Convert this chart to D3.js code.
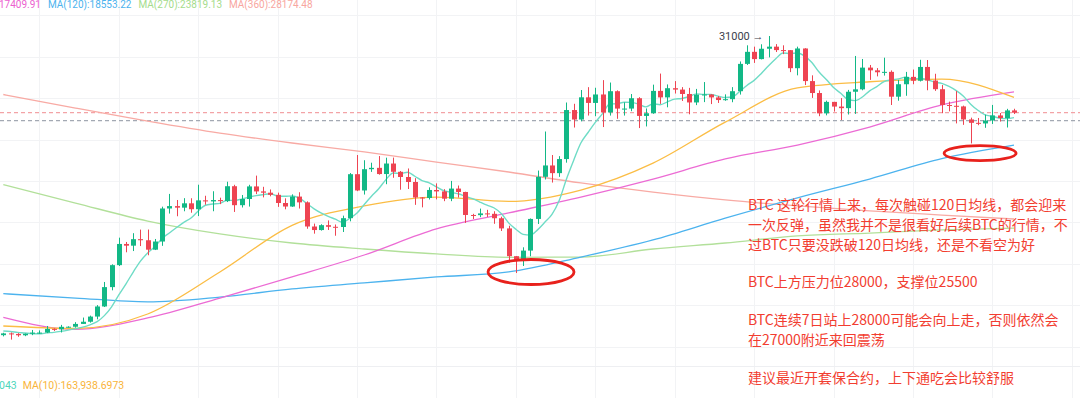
<!DOCTYPE html>
<html>
<head>
<meta charset="utf-8">
<script src="https://cdn.jsdelivr.net/npm/d3@7"></script>
<style>
  body { margin: 0; background: #fff; overflow: hidden; }
  svg { display: block; font-family: Roboto, "Noto Sans", sans-serif; }
</style>
</head>
<body>
<div id="chart"></div>
<script>
// daily candles, 2022-12-29 .. 2023-05-18 (last one still open)
const opens = [16547,16633,16607,16541,16617,16672,16673,16851,16831,16951,16955,17091,17196,17446,17934,18869,19930,20954,20871,21185,21133,20677,21071,22667,22783,22707,22917,22632,23060,23009,23074,23022,23743,22827,23125,23733,23492,23431,23327,22932,22762,23242,22963,21797,21626,21862,21783,21773,22199,24324,23538,24565,24631,24331,24839,24440,24189,23947,23198,23175,23562,23492,23141,23629,23465,22354,22346,22430,22410,22196,21705,20363,20187,20633,22163,24197,24746,24375,25055,27423,26965,28038,27767,28175,27307,28333,27493,27494,27994,27139,27268,28348,28034,28478,28411,28199,27790,28169,28175,28033,27906,27948,28333,29653,30235,29884,30384,30485,30319,30316,29445,30397,28822,28245,27262,27817,27591,27514,28307,28423,29473,29341,29248,29268,28068,28669,29026,28838,29505,28848,28430,27668,27628,27598,26969,26805,26775,26917,27163,27033,27405];
const highs = [16664,16677,16644,16628,16799,16778,16992,16878,17044,16975,17176,17398,17491,18000,19117,19971,21258,21050,21474,21647,21650,21194,22755,23371,23078,23166,23162,23816,23282,23500,23189,23960,23811,23320,23812,24255,23715,23587,23433,23158,23350,23452,23011,21938,21906,22090,21894,22322,24380,25250,24998,24879,25200,25122,25126,24476,24600,24132,23219,23689,23880,23600,23999,23777,23476,22410,22662,22602,22534,22270,21834,20370,20792,22185,24500,26386,25250,25196,27787,27725,28390,28528,28500,28868,28752,28374,27792,28196,28044,27500,28650,29184,28660,28821,28530,28494,28444,28775,28190,28100,28180,28530,29770,30550,30485,30600,31000,30608,30550,30320,30485,30411,29100,28371,27877,27820,28000,28397,30036,29890,29600,29450,29952,29338,28880,29266,29379,29850,29840,29176,28630,27830,28336,27636,27055,27040,27200,27670,27280,27481,27485];
const lows = [16488,16333,16470,16499,16548,16606,16647,16750,16678,16908,16911,17091,17153,17314,17907,18714,19888,20551,20611,20852,20408,20659,20862,22422,22292,22533,22462,22300,22850,22534,22878,22978,22500,22715,22760,23363,23204,23256,22745,22628,22745,22665,21688,21451,21599,21630,21351,21532,22047,23505,23340,24435,24300,23840,24150,23574,23608,22843,22722,23101,23106,23020,23021,23195,21971,22157,22247,22258,21927,21580,20042,19549,19889,20360,21918,24068,23920,24195,24881,26578,26880,27157,27124,26601,27155,27000,27156,27367,26552,26631,27241,27720,27555,28220,27861,27218,27661,27806,27711,27766,27871,27800,28170,29600,29700,29870,29967,30226,30124,29255,29100,28630,28010,27125,27167,27350,26942,27207,27235,28377,28880,29050,29088,27666,27873,28112,28670,28803,28379,28348,27270,27359,26777,26708,25811,26690,26565,26750,26864,26580,27230];
const closes = [16633,16607,16542,16616,16672,16673,16851,16831,16951,16955,17091,17196,17446,17934,18869,19930,20954,20871,21185,21133,20677,21071,22667,22783,22707,22917,22632,23060,23009,23074,23022,23743,22827,23125,23733,23492,23431,23327,22932,22762,23242,22963,21797,21626,21862,21783,21773,22199,24324,23538,24565,24631,24331,24839,24440,24189,23947,23198,23175,23562,23492,23141,23629,23465,22354,22346,22430,22410,22196,21705,20363,20187,20633,22163,24197,24746,24375,25055,27423,26965,28038,27767,28175,27307,28333,27493,27494,27994,27139,27268,28348,28034,28478,28411,28199,27790,28169,28175,28033,27906,27948,28333,29653,30235,29884,30384,30485,30319,30316,29445,30397,28822,28245,27262,27817,27591,27514,28307,28423,29473,29341,29248,29268,28068,28669,29026,28838,29505,28848,28430,27668,27628,27598,26969,26805,26775,26917,27163,27033,27405,27295];
// closes of the six days before the first candle, for the short MA
const preCloses = [16778,16837,16832,16919,16706,16547];

// long moving averages every 10 candles
const maIndex = [0,10,20,30,40,50,60,70,80,90,100,110,120,130,140];
const ma30  = [16990,16870,17570,19600,21850,22790,23220,23010,23560,24860,26840,28490,28790,28920,28030];
const ma60  = [17410,16830,17380,18340,19360,20420,21680,22450,23220,24090,25060,25730,26600,27670,28300];
const ma120 = [18553,18340,18160,18390,18780,19070,19360,19600,20320,21150,22200,23180,24090,25080,25730];
const ma270 = [23819,22930,22060,21440,21000,20710,20470,20310,20320,20710,21000,21340,21480,21630,21720];
const ma360 = [28174,27520,26890,26310,25830,25400,24910,24430,23900,23460,23080,22790,22550,22350,22160];

const lastPrice = 27295;
const markLine = 26908;
const highLabel = 31000;
const gridPrices = [16000,18000,20000,22000,24000,26000,28000,30000,32000];

const topLegend = [
  { text: '17409.91', color: '#ec5fcf' },
  { text: 'MA(120):18553.22', color: '#4cb3ee' },
  { text: 'MA(270):23819.13', color: '#a5dc8c' },
  { text: 'MA(360):28174.48', color: '#f8a6a0' }
];
const bottomLegend = [
  { text: '043', color: '#4fd6bb' },
  { text: 'MA(10):163,938.6973', color: '#f9b43a' }
];
const notes = [
  'BTC 这轮行情上来，每次触碰120日均线，都会迎来',
  '一次反弹，虽然我并不是很看好后续BTC的行情，不',
  '过BTC只要没跌破120日均线，还是不看空为好',
  '',
  'BTC上方压力位28000，支撑位25500',
  '',
  'BTC连续7日站上28000可能会向上走，否则依然会',
  '在27000附近来回震荡',
  '',
  '建议最近开套保合约，上下通吃会比较舒服'
];

const W = 1080, H = 398;
const UP = '#12b886', DOWN = '#ee4452';

const svg = d3.select('#chart').append('svg')
  .attr('width', W)
  .attr('height', H);

const x = d3.scaleLinear().domain([0, closes.length - 1]).range([3.3, 1014]);
const y = d3.scaleLinear().domain([16000, 31000]).range([346.5, 36]);

// background grid
const grid = svg.append('g');
grid.selectAll('line.h')
  .data(gridPrices)
  .enter().append('line')
  .attr('class', 'h')
  .attr('x1', 0).attr('x2', W)
  .attr('y1', d => Math.round(y(d)) + 0.5)
  .attr('y2', d => Math.round(y(d)) + 0.5)
  .attr('stroke', '#f2f3f5');
const vIdx = d3.range(5, 160, 11);
grid.selectAll('line.v')
  .data(vIdx)
  .enter().append('line')
  .attr('class', 'v')
  .attr('x1', d => Math.round(x(d)) + 0.5)
  .attr('x2', d => Math.round(x(d)) + 0.5)
  .attr('y1', 0).attr('y2', H)
  .attr('stroke', '#f2f3f5');
grid.append('line')
  .attr('x1', 0).attr('x2', W).attr('y1', 366.5).attr('y2', 366.5)
  .attr('stroke', '#eeeff2');

// price lines
svg.append('line')
  .attr('x1', 0).attr('x2', W)
  .attr('y1', y(lastPrice)).attr('y2', y(lastPrice))
  .attr('stroke', '#f3a3a6').attr('stroke-width', 1.3)
  .attr('stroke-dasharray', '4,3');
svg.append('line')
  .attr('x1', 0).attr('x2', W)
  .attr('y1', y(markLine)).attr('y2', y(markLine))
  .attr('stroke', '#a3a9b3').attr('stroke-width', 1.3)
  .attr('stroke-dasharray', '4,3');

// moving averages
const line = d3.line()
  .x(d => x(d[0]))
  .y(d => y(d[1]))
  .curve(d3.curveMonotoneX);

const longMAs = [
  { values: ma360, color: '#f8aaa4' },
  { values: ma270, color: '#b2e09a' },
  { values: ma120, color: '#4cb3ee' },
  { values: ma60, color: '#ec6bd4' },
  { values: ma30, color: '#fbbd45' }
];
longMAs.forEach(m => {
  svg.append('path')
    .datum(maIndex.map((k, i) => [k, m.values[i]]))
    .attr('d', line)
    .attr('fill', 'none')
    .attr('stroke', m.color)
    .attr('stroke-width', 1.3);
});

// short MA(7) from the closes
const allCloses = preCloses.concat(closes);
const ma7 = closes.map((c, i) => [i, d3.mean(allCloses.slice(i, i + 7))]);
svg.append('path')
  .datum(ma7)
  .attr('d', line)
  .attr('fill', 'none')
  .attr('stroke', '#6fdcc6')
  .attr('stroke-width', 1.4);

// candles
const candles = svg.append('g')
  .selectAll('g')
  .data(closes.map((c, i) => ({ i, o: opens[i], h: highs[i], l: lows[i], c })))
  .enter().append('g');
candles.append('line')
  .attr('x1', d => Math.round(x(d.i)) + 0.5)
  .attr('x2', d => Math.round(x(d.i)) + 0.5)
  .attr('y1', d => y(d.h))
  .attr('y2', d => y(d.l))
  .attr('stroke', d => d.c >= d.o ? UP : DOWN);
candles.append('rect')
  .attr('x', d => Math.round(x(d.i)) - 2)
  .attr('width', 5)
  .attr('y', d => y(Math.max(d.o, d.c)))
  .attr('height', d => Math.max(1, Math.abs(y(d.o) - y(d.c))))
  .attr('fill', d => d.c >= d.o ? UP : DOWN);

// high marker
const hiIdx = highs.indexOf(d3.max(highs));
svg.append('text')
  .attr('x', x(hiIdx) - 5)
  .attr('y', y(highLabel) + 4)
  .attr('text-anchor', 'end')
  .attr('font-size', 11)
  .attr('fill', '#3b414c')
  .text(highLabel + ' \u2192');

// circled touches of MA(120)
const rings = [
  { i: 73.1, p: 19600, rx: 43, ry: 12.5 },
  { i: 135.3, p: 25340, rx: 36, ry: 7.5 }
];
svg.selectAll('ellipse')
  .data(rings)
  .enter().append('ellipse')
  .attr('cx', d => x(d.i))
  .attr('cy', d => y(d.p))
  .attr('rx', d => d.rx)
  .attr('ry', d => d.ry)
  .attr('fill', 'none')
  .attr('stroke', '#e8211c')
  .attr('stroke-width', 2.8);

// annotation text
const noteY = [205, 225, 245, 263, 282, 300, 320, 340, 358, 378];
svg.append('g')
  .selectAll('text')
  .data(notes)
  .enter().append('text')
  .attr('x', 748)
  .attr('y', (d, i) => noteY[i] + 5)
  .attr('font-family', '"Noto Sans CJK SC", sans-serif')
  .attr('font-size', 14)
  .attr('fill', '#f23d30')
  .text(d => d);

// legends
const topText = svg.append('text').attr('x', -1).attr('y', 7.5).attr('font-size', 10);
topLegend.forEach((d, i) => {
  topText.append('tspan').attr('dx', i ? 7 : 0).attr('fill', d.color).text(d.text);
});
const bottomText = svg.append('text').attr('x', -1).attr('y', 389).attr('font-size', 10.5);
bottomLegend.forEach((d, i) => {
  bottomText.append('tspan').attr('dx', i ? 6 : 0).attr('fill', d.color).text(d.text);
});
</script>
</body>
</html>
